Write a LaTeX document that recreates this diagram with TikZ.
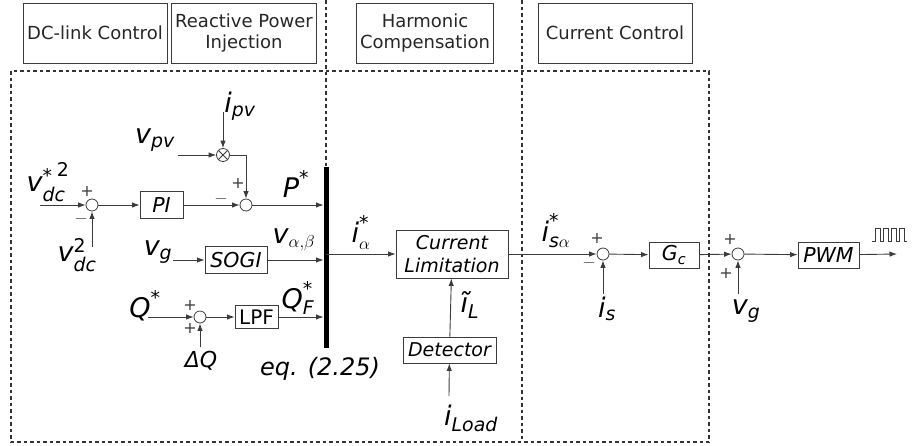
\documentclass[tikz,border=0pt]{standalone}
\usepackage{amsmath}
\usepackage{fontspec}
\setmainfont{DejaVu Sans}
\usetikzlibrary{positioning}
\usetikzlibrary{arrows.meta}
\usetikzlibrary{calc}

\definecolor{linegray}{RGB}{60,60,60}
\newcommand{\itx}[1]{\text{\itshape #1}}

\tikzset{
    hdr/.style={draw=linegray, line width=0.9pt, minimum height=60pt, align=center,
        text=black!85, font=\fontsize{18}{20.5}\selectfont},
    blk/.style={draw=linegray, line width=0.9pt, inner sep=2pt, align=center,
        font=\fontsize{19}{23}\selectfont\itshape},
    bigblk/.style={blk, font=\fontsize{20.5}{23}\selectfont\itshape},
    sumc/.style={circle, draw=linegray, line width=0.8pt, minimum size=12pt, inner sep=0pt},
    sig/.style={-{Latex[length=7.5pt,width=5.5pt]}, draw=linegray, line width=0.9pt},
    lbl/.style={font=\fontsize{27}{29}\selectfont, inner sep=0pt},
    sgn/.style={font=\fontsize{16}{16}\selectfont, inner sep=0pt, text=linegray},
    sect/.style={draw=black!80, line width=1.6pt, dash pattern=on 3.5pt off 3pt}
}

\begin{document}
\begin{tikzpicture}[x=1pt, y=-1pt]
    \useasboundingbox (0,0) rectangle (912,445);

    % section titles
    \node[hdr, minimum width=144pt] (hdc) at (95,33) {DC-link Control};
    \node[hdr, minimum width=142pt] (hrp) at (244,33) {Reactive Power\\Injection};
    \node[hdr, minimum width=136pt] (hhc) at (425,33) {Harmonic\\Compensation};
    \node[hdr, minimum width=154pt] (hcc) at (615,33) {Current Control};

    % dotted frame
    \coordinate (bt) at (326,167);
    \coordinate (bb) at (326,348);
    \draw[sect] (11,71) rectangle (709,442);
    \draw[sect] (326,0) -- (bt);
    \draw[sect] (522,0) -- (522,442);

    % blocks
    \node[sumc] (s1) at (92,205) {};
    \node[bigblk, minimum width=43pt, minimum height=27pt] (pi) at (161.5,205) {PI};
    \node[sumc] (s2) at (246,205) {};
    \node[sumc, minimum size=13pt] (mul) at (223,155) {};
    \draw[linegray, line width=0.8pt] (mul.north west) -- (mul.south east) (mul.north east) -- (mul.south west);
    \draw[line width=5pt] (bt) -- (bb);
    \node[bigblk, minimum width=62pt, minimum height=27pt] (sogi) at (236,260) {SOGI};
    \node[sumc] (s3) at (200,317) {};
    \node[blk, font=\fontsize{20}{23}\selectfont, minimum width=43pt, minimum height=23pt] (lpf) at (256.5,317) {LPF};
    \node[blk, minimum width=112pt, minimum height=48pt] (cl) at (452,254) {Current\\Limitation};
    \node[blk, minimum width=93pt, minimum height=26pt] (det) at (449.5,350) {Detector};
    \node[sumc] (s4) at (603,254) {};
    \node[bigblk, minimum width=50pt, minimum height=26pt] (gc) at (674,255) {$\text{G}_{\text{c}}$};
    \node[sumc] (s5) at (738,254) {};
    \node[bigblk, minimum width=61pt, minimum height=26pt] (pwm) at (828.5,255) {PWM};

    % signals
    \node[lbl] (vdcr) at (48,182) {$\itx{v}_{\itx{dc}}^{\text{*}\hspace{5pt}\raisebox{6pt}{$\scriptstyle\text{2}$}}$};
    \node[lbl] (vdc) at (77,255) {$\itx{v}_{\itx{dc}}^{\text{2}}$};
    \node[lbl] (vpv) at (155,140) {$\itx{v}_{\itx{pv}}$};
    \node[lbl] (ipv) at (240,106) {$\itx{i}_{\itx{pv}}$};
    \node[lbl] (pref) at (296,184) {$\itx{P}^{\text{*}}$};
    \node[lbl] (vgl) at (158,252) {$\itx{v}_{\itx{g}}$};
    \node[lbl] (vab) at (294,240) {$\itx{v}_{\alpha,\beta}$};
    \node[lbl] (qref) at (145,306) {$\itx{Q}^{\text{*}}$};
    \node[lbl] (qf) at (298,298) {$\itx{Q}_{\itx{F}}^{\text{*}}$};
    \node[lbl, font=\fontsize{22}{24}\selectfont] (dq) at (201,361) {\itshape ΔQ};
    \node[lbl, font=\fontsize{24}{26}\selectfont\itshape] (eq) at (320,369) {eq. (2.25)};
    \node[lbl] (ia) at (361,232) {$\itx{i}_{\alpha}^{\text{*}}$};
    \node[lbl] (il) at (470,305) {$\itx{\~{\i}}_{\itx{L}}$};
    \node[lbl] (iload) at (471,418) {$\itx{i}_{\itx{Load}}$};
    \node[lbl] (isa) at (556,231) {$\itx{i}_{\itx{s}\alpha}^{\text{*}}$};
    \node[lbl] (is) at (607,309) {$\itx{i}_{\itx{s}}$};
    \node[lbl] (vgr) at (746,311) {$\itx{v}_{\itx{g}}$};

    % signs
    \node[sgn] (p1) at (87,191) {+};
    \node[sgn] (m1) at (81,219) {$-$};
    \node[sgn] (p2) at (238,183) {+};
    \node[sgn] (m2) at (221,199) {$-$};
    \node[sgn] (p3) at (190,305) {+};
    \node[sgn] (p4) at (190,328) {+};
    \node[sgn] (p5) at (597,238) {+};
    \node[sgn] (m5) at (589,263) {$-$};
    \node[sgn] (p6) at (730,239) {+};
    \node[sgn] (p7) at (726,273) {+};

    % free ends
    \coordinate (in1) at (40,205);
    \coordinate (in2) at (92,247);
    \coordinate (in3) at (178,155);
    \coordinate (in4) at (223,112);
    \coordinate (in5) at (173,260);
    \coordinate (in6) at (148,317);
    \coordinate (in7) at (200,347);
    \coordinate (in8) at (603,294);
    \coordinate (in9) at (738,294);
    \coordinate (in10) at (449,396);
    \coordinate (out) at (897,254);

    % connectors
    \draw[sig] (in1) -- (s1);
    \draw[sig] (in2) -- (s1);
    \draw[sig] (s1) -- (pi);
    \draw[sig] (pi) -- (s2);
    \draw[sig] (in3) -- (mul);
    \draw[sig] (in4) -- (mul);
    \draw[sig] (mul) -| (s2);
    \draw[sig, shorten >=2.5pt] (s2) -- (s2 -| bt);
    \draw[sig] (in5) -- (sogi);
    \draw[sig, shorten >=2.5pt] (sogi) -- (sogi -| bt);
    \draw[sig] (in6) -- (s3);
    \draw[sig] (in7) -- (s3);
    \draw[sig] (s3) -- (lpf);
    \draw[sig, shorten >=2.5pt] (lpf) -- (lpf -| bt);
    \draw[sig] (cl -| bt) -- (cl);
    \draw[sig] (in10) -- (det);
    \draw[sig] (det) -- (cl);
    \draw[sig] (cl) -- (s4);
    \draw[sig] (in8) -- (s4);
    \draw[sig] (s4) -- (gc);
    \draw[sig] (gc) -- (s5);
    \draw[sig] (in9) -- (s5);
    \draw[sig] (s5) -- (pwm);
    \draw[sig] (pwm) -- (out);

    % pwm pulses
    \draw[linegray, line width=0.8pt] (872,241) \foreach \k in {1,...,4}{ -- ++(3,0) -- ++(0,-13) -- ++(5,0) -- ++(0,13)} -- ++(3,0);
\end{tikzpicture}
\end{document}
